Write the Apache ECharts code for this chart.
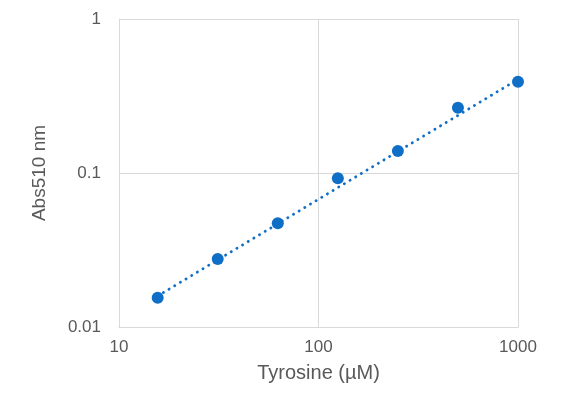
<!DOCTYPE html>
<html>
<head>
<meta charset="utf-8">
<script src="https://cdn.jsdelivr.net/npm/echarts@6/dist/echarts.min.js"></script>
<style>
  html, body { margin: 0; padding: 0; background: #fff; }
  #main { width: 562px; height: 412px; }
</style>
</head>
<body>
<div id="main"></div>
<script>
// tyrosine standard (uM) and absorbance at 510 nm
var tyrosine = [15.625, 31.25, 62.5, 125, 250, 500, 1000];
var abs510 = [0.0155, 0.0276, 0.0471, 0.0924, 0.139, 0.265, 0.392];

// trendline ends
var trendX = [15.625, 1000];
var trendY = [0.0159, 0.406];

var blue = '#0f6fc6';
var grey = '#595959';
var gridCol = '#d9d9d9';

var pts = [];
for (var i = 0; i < tyrosine.length; i++) {
	pts.push([tyrosine[i], abs510[i]]);
}
var trend = [];
for (var j = 0; j < trendX.length; j++) {
	trend.push([trendX[j], trendY[j]]);
}

function plainNum(v) {
	return String(+(+v).toPrecision(3));
}

var myChart = echarts.init(document.getElementById('main'));
var option = {
	animation: false,
	grid: { left: 119, right: 44, top: 19, bottom: 85 },
	xAxis: {
		type: 'log',
		logBase: 10,
		min: 10,
		max: 1000,
		name: 'Tyrosine (\u00b5M)',
		nameLocation: 'middle',
		nameGap: 36,
		nameTextStyle: { color: grey, fontSize: 20, fontFamily: 'Liberation Sans' },
		axisLine: { show: true, lineStyle: { color: gridCol, width: 1 } },
		axisTick: { show: false },
		axisLabel: { color: grey, fontSize: 17, fontFamily: 'Liberation Sans', margin: 12, formatter: plainNum },
		splitLine: { show: true, lineStyle: { color: gridCol, width: 1 } }
	},
	yAxis: {
		type: 'log',
		logBase: 10,
		min: 0.01,
		max: 1,
		name: 'Abs510 nm',
		nameLocation: 'middle',
		nameGap: 70,
		nameRotate: 90,
		nameTextStyle: { color: grey, fontSize: 19, fontFamily: 'Liberation Sans' },
		axisLine: { show: true, lineStyle: { color: gridCol, width: 1 } },
		axisTick: { show: false },
		axisLabel: { color: grey, fontSize: 17, fontFamily: 'Liberation Sans', margin: 18, formatter: plainNum },
		splitLine: { show: true, lineStyle: { color: gridCol, width: 1 } }
	},
	series: [{
		name: 'trend',
		type: 'line',
		data: trend,
		showSymbol: false,
		lineStyle: { color: blue, width: 2.8, type: [0.2, 6.4], cap: 'round' },
		z: 2
	}, {
		name: 'Abs',
		type: 'scatter',
		data: pts,
		symbolSize: 12,
		itemStyle: { color: blue, opacity: 1 },
		z: 3
	}]
};
myChart.setOption(option);
</script>
</body>
</html>
